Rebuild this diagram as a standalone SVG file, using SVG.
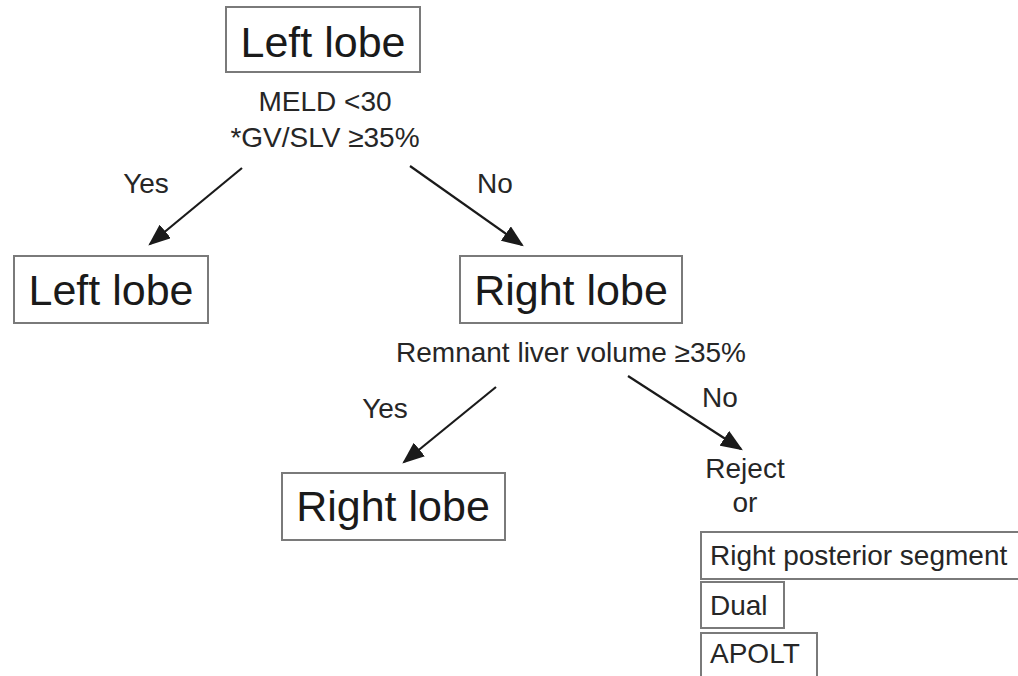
<svg xmlns="http://www.w3.org/2000/svg" width="1018" height="676" viewBox="0 0 1018 676">
<style>
.box{fill:#fff;stroke:#7a7a7a;stroke-width:2}
.big{font-family:"Liberation Sans",Arial,sans-serif;font-size:43px;fill:#1a1a1a}
.sm{font-family:"Liberation Sans",Arial,sans-serif;font-size:28px;fill:#262626}
.arr{stroke:#1a1a1a;stroke-width:2.2;fill:none;marker-end:url(#ah)}
</style>
<defs>
<marker id="ah" markerWidth="10" markerHeight="8" refX="9" refY="4" orient="auto" markerUnits="strokeWidth">
<path d="M0,0 L10,4 L0,8 Z" fill="#1a1a1a"/>
</marker>
</defs>
<rect width="1018" height="676" fill="#fff"/>
<g id="connectors">
<line class="arr" x1="242" y1="168" x2="150" y2="244"/>
<line class="arr" x1="410" y1="166" x2="522" y2="245"/>
<line class="arr" x1="496" y1="387" x2="404" y2="462"/>
<line class="arr" x1="628" y1="376" x2="741" y2="449"/>
<text class="sm" x="146" y="193" text-anchor="middle">Yes</text>
<text class="sm" x="495" y="193" text-anchor="middle">No</text>
<text class="sm" x="385" y="418" text-anchor="middle">Yes</text>
<text class="sm" x="720" y="407" text-anchor="middle">No</text>
</g>
<g id="root">
<rect class="box" x="226" y="7" width="194" height="65"/>
<text class="big" x="323" y="57" text-anchor="middle">Left lobe</text>
<text class="sm" x="325" y="111" text-anchor="middle">MELD &lt;30</text>
<text class="sm" x="325" y="147" text-anchor="middle">*GV/SLV ≥35%</text>
</g>
<g id="left-lobe">
<rect class="box" x="14" y="256" width="194" height="67"/>
<text class="big" x="111" y="305" text-anchor="middle">Left lobe</text>
</g>
<g id="right-lobe">
<rect class="box" x="460" y="256" width="222" height="67"/>
<text class="big" x="571" y="305" text-anchor="middle">Right lobe</text>
<text class="sm" x="571" y="362" text-anchor="middle">Remnant liver volume ≥35%</text>
</g>
<g id="right-lobe-2">
<rect class="box" x="282" y="473" width="223" height="67"/>
<text class="big" x="393" y="521" text-anchor="middle">Right lobe</text>
</g>
<g id="reject">
<text class="sm" x="745" y="478" text-anchor="middle">Reject</text>
<text class="sm" x="745" y="512" text-anchor="middle">or</text>
</g>
<g id="right-posterior">
<rect class="box" x="701" y="532" width="330" height="47"/>
<text class="sm" x="710" y="565">Right posterior segment</text>
</g>
<g id="dual">
<rect class="box" x="701" y="582" width="83" height="46"/>
<text class="sm" x="710" y="615">Dual</text>
</g>
<g id="apolt">
<rect class="box" x="701" y="633" width="116" height="60"/>
<text class="sm" x="710" y="663">APOLT</text>
</g>
</svg>
